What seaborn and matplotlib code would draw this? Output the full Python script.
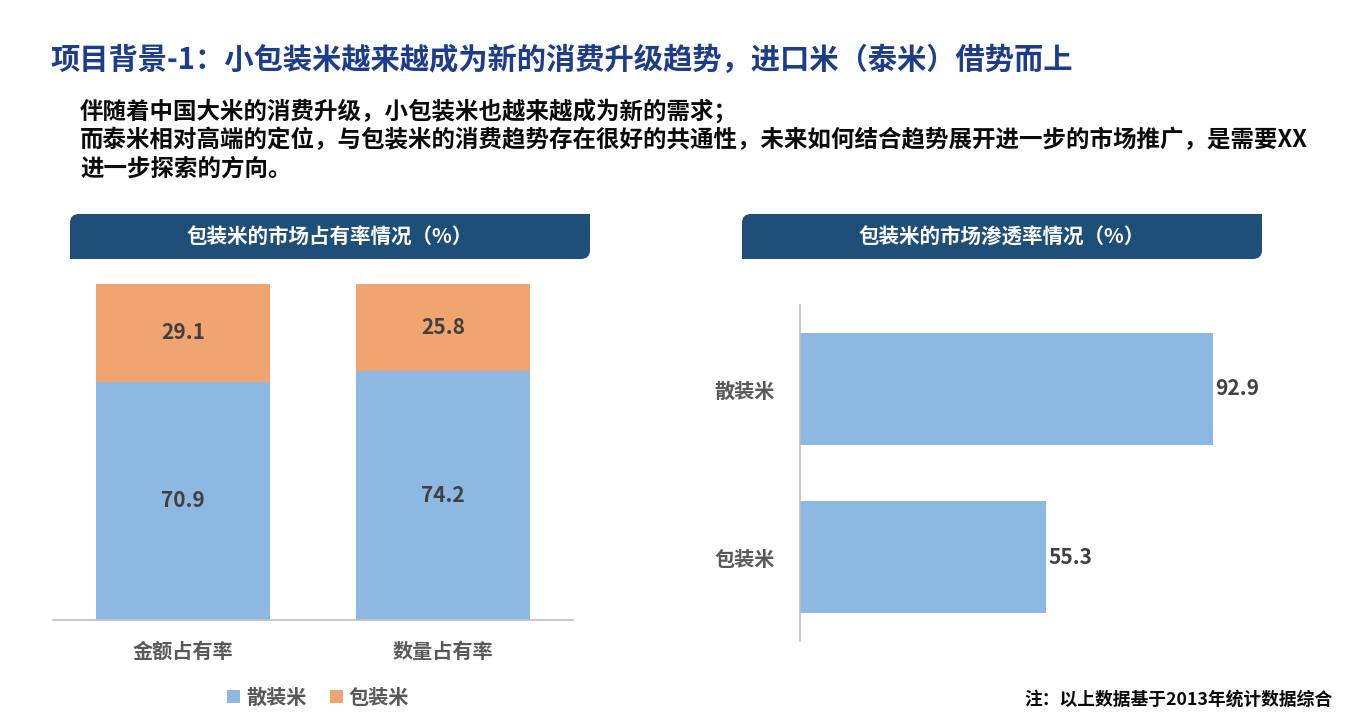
import matplotlib
matplotlib.use("Agg")
import matplotlib.pyplot as plt
import seaborn as sns
import pandas as pd
from matplotlib.path import Path
from matplotlib.patches import PathPatch, Patch
from matplotlib.transforms import Affine2D

# ---------------- data ----------------
share_categories = ["金额占有率", "数量占有率"]
bulk_share = [70.9, 74.2]          # 散装米
packaged_share = [29.1, 25.8]      # 包装米
series_names = ["散装米", "包装米"]

penetration_categories = ["散装米", "包装米"]
penetration_values = [92.9, 55.3]

title_text = "项目背景-1：小包装米越来越成为新的消费升级趋势，进口米（泰米）借势而上"
body_lines = [
    "伴随着中国大米的消费升级，小包装米也越来越成为新的需求；",
    "而泰米相对高端的定位，与包装米的消费趋势存在很好的共通性，未来如何结合趋势展开进一步的市场推广，是需要XX",
    "进一步探索的方向。",
]
left_header = "包装米的市场占有率情况（%）"
right_header = "包装米的市场渗透率情况（%）"
footnote = "注：以上数据基于2013年统计数据综合"

# ---------------- style ----------------
sns.set_theme(style="white")
plt.rcParams["font.family"] = ["Noto Sans CJK SC", "DejaVu Sans"]
plt.rcParams["font.weight"] = "bold"

BLUE = "#8DB8E1"
ORANGE = "#F0A46F"
HEADER = "#1F4E79"
TITLE = "#1E3C8C"
LABEL = "#404040"
TICK = "#595959"
AXIS = "#BFBFBF"

W, H = 1366, 720
fig = plt.figure(figsize=(W / 100, H / 100), dpi=100)
fig.patch.set_facecolor("white")

px = Affine2D().scale(1 / W, 1 / H) + fig.transFigure


def fx(x):
    return x / W


def fy(y):
    return 1 - y / H


# title and body text
fig.text(fx(50), fy(60), title_text, color=TITLE, fontsize=21.1,
         fontweight="bold", va="center", ha="left")
for i, line in enumerate(body_lines):
    fig.text(fx(80), fy(111 + i * 29), line, color="#0A0A0A", fontsize=16.9,
             fontweight="bold", va="center", ha="left")


# header boxes with rounded top-left and bottom-right corners
def header_box(x0, x1, y0, y1, r=9):
    Y0, Y1 = H - y0, H - y1  # Y0 top, Y1 bottom
    verts = [
        (x0, Y0 - r),
        (x0, Y0), (x0 + r, Y0),
        (x1, Y0),
        (x1, Y1 + r),
        (x1, Y1), (x1 - r, Y1),
        (x0, Y1),
        (x0, Y0 - r),
    ]
    codes = [Path.MOVETO, Path.CURVE3, Path.CURVE3, Path.LINETO, Path.LINETO,
             Path.CURVE3, Path.CURVE3, Path.LINETO, Path.CLOSEPOLY]
    p = PathPatch(Path(verts, codes), facecolor=HEADER, edgecolor="none",
                  transform=px)
    fig.patches.append(p)


header_box(70, 590, 214, 259)
header_box(742, 1262, 214, 259)
fig.text(fx(330), fy(237), left_header, color="white", fontsize=14.8,
         fontweight="bold", ha="center", va="center")
fig.text(fx(1002), fy(237), right_header, color="white", fontsize=14.8,
         fontweight="bold", ha="center", va="center")

# ---------------- left: stacked bar ----------------
axL = fig.add_axes([fx(53), 1 - 620 / H, 520 / W, 336 / H])
df_left = pd.DataFrame({
    "category": share_categories,
    "bulk": bulk_share,
    "total": [b + p for b, p in zip(bulk_share, packaged_share)],
    "packaged": packaged_share,
})
sns.barplot(data=df_left, x="category", y="total", color=ORANGE,
            saturation=1, width=0.67, ax=axL, linewidth=0)
sns.barplot(data=df_left, x="category", y="bulk", color=BLUE,
            saturation=1, width=0.67, ax=axL, linewidth=0)
axL.set_xlim(-0.5, 1.5)
axL.set_ylim(0, 100)
for i, (b, p) in enumerate(zip(bulk_share, packaged_share)):
    axL.text(i, b / 2, f"{b:.1f}", ha="center", va="center", color=LABEL,
             fontsize=15, fontweight="bold")
    axL.text(i, b + p / 2, f"{p:.1f}", ha="center", va="center", color=LABEL,
             fontsize=15, fontweight="bold")
axL.set_xlabel("")
axL.set_ylabel("")
axL.set_yticks([])
for s in ["top", "right", "left"]:
    axL.spines[s].set_visible(False)
axL.spines["bottom"].set_color(AXIS)
axL.spines["bottom"].set_linewidth(1.2)
axL.tick_params(axis="x", length=0, pad=15, labelsize=14.5, labelcolor=TICK)
for t in axL.get_xticklabels():
    t.set_fontweight("bold")
axL.set_facecolor("none")

# legend
handles = [Patch(facecolor=BLUE, edgecolor="none"),
           Patch(facecolor=ORANGE, edgecolor="none")]
leg = fig.legend(handles, series_names, loc="center",
                 bbox_to_anchor=(fx(318), fy(697)), ncol=2, frameon=False,
                 handlelength=0.65, handleheight=0.65, handletextpad=0.3,
                 columnspacing=1.15, prop={"size": 14.5, "weight": "bold"})
for t in leg.get_texts():
    t.set_color(TICK)

# ---------------- right: horizontal bar ----------------
axR = fig.add_axes([fx(800), 1 - 641 / H, 445 / W, 336 / H])
df_right = pd.DataFrame({"category": penetration_categories,
                         "value": penetration_values})
sns.barplot(data=df_right, y="category", x="value", color=BLUE, orient="h",
            saturation=1, width=0.665, ax=axR, linewidth=0)
axR.set_xlim(0, 100)
axR.set_ylim(1.5, -0.5)
for c in axR.containers:
    axR.bar_label(c, fmt="%.1f", padding=1.5, color=LABEL,
                  fontsize=15, fontweight="bold")
axR.set_xlabel("")
axR.set_ylabel("")
axR.set_xticks([])
for s in ["top", "right", "bottom"]:
    axR.spines[s].set_visible(False)
axR.spines["left"].set_color(AXIS)
axR.spines["left"].set_linewidth(1.2)
axR.tick_params(axis="y", length=0, pad=18, labelsize=14.5, labelcolor=TICK)
for t in axR.get_yticklabels():
    t.set_fontweight("bold")
axR.set_facecolor("none")

# footnote
fig.text(fx(1333), fy(700), footnote, color="#0A0A0A", fontsize=12.8,
         fontweight="bold", ha="right", va="center")

fig.savefig("out.png", dpi=100, facecolor="white")
